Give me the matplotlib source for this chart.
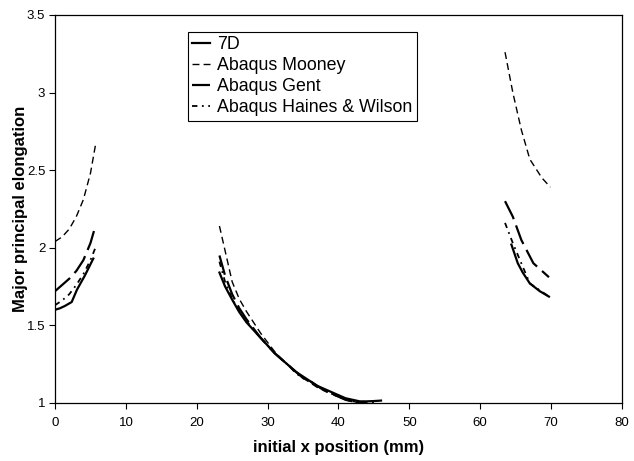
import matplotlib.pyplot as plt

plt.rcParams['font.family'] = ['Liberation Sans', 'DejaVu Sans']

# left group
x_left = [0, 1, 2, 3, 4, 5, 5.7]
d7_left_x = [0, 0.7, 1.4, 2.35, 3.1, 4.2, 5.4]
d7_left_y = [1.60, 1.61, 1.625, 1.65, 1.73, 1.82, 1.93]
mooney_left = [2.04, 2.07, 2.12, 2.20, 2.31, 2.48, 2.66]
gent_left = [1.72, 1.76, 1.80, 1.85, 1.92, 2.03, 2.14]
hw_left = [1.63, 1.66, 1.70, 1.76, 1.83, 1.92, 2.00]

# middle group
x_mid = [23.2, 24, 25, 26, 27, 28, 29, 30, 31, 32, 33, 34, 35, 36, 37, 38,
         39, 40, 41, 42, 43, 44, 45, 46]
d7_mid = [1.84, 1.75, 1.665, 1.585, 1.52, 1.47, 1.42, 1.37, 1.32, 1.28, 1.24,
          1.20, 1.17, 1.14, 1.11, 1.09, 1.07, 1.05, 1.03, 1.02, 1.01, 1.01,
          1.012, 1.015]
mooney_mid = [2.14, 1.98, 1.78, 1.67, 1.59, 1.52, 1.45, 1.39, 1.33, 1.28,
              1.24, 1.20, 1.16, 1.13, 1.10, 1.08, 1.06, 1.04, 1.02, 1.01, 1.0]
gent_mid = [1.95, 1.82, 1.70, 1.61, 1.54, 1.48, 1.42, 1.37, 1.32, 1.28, 1.24,
            1.20, 1.16, 1.14, 1.11, 1.08, 1.06, 1.04, 1.02, 1.01, 1.0, 1.0]
hw_mid = [1.91, 1.78, 1.67, 1.59, 1.53, 1.47, 1.42, 1.37, 1.32, 1.28, 1.24,
          1.19, 1.16, 1.14, 1.11, 1.08, 1.06, 1.04, 1.02, 1.01, 1.0, 1.0, 1.005]

# right group
mooney_right_x = [63.5, 64.6, 65.8, 67.0, 68.7, 69.9]
mooney_right_y = [3.26, 3.00, 2.76, 2.57, 2.45, 2.39]
gent_right_x = [63.5, 64.6, 65.8, 67.5, 69.7]
gent_right_y = [2.30, 2.20, 2.05, 1.90, 1.81]
hw_right_x = [63.5, 64.6, 65.8, 67.0, 69.7]
hw_right_y = [2.16, 2.03, 1.90, 1.77, 1.685]
d7_right_x = [64.4, 65.3, 66.0, 67.0, 68.4, 69.7]
d7_right_y = [2.02, 1.90, 1.84, 1.77, 1.72, 1.685]

styles = {
    '7D': dict(color='black', lw=1.6, linestyle='-'),
    'Abaqus Mooney': dict(color='black', lw=1.0, linestyle=(0, (5, 3))),
    'Abaqus Gent': dict(color='black', lw=1.6, linestyle=(0, (9, 3))),
    'Abaqus Haines & Wilson': dict(color='black', lw=1.3, linestyle=(0, (3, 2.5, 1, 2.5))),
}

fig = plt.figure(figsize=(6.34, 4.61), dpi=100)
ax = fig.add_axes([0.0868, 0.126, 0.8942, 0.8416])

ax.plot(d7_left_x, d7_left_y, label='7D', **styles['7D'])
ax.plot(x_left, mooney_left, label='Abaqus Mooney', **styles['Abaqus Mooney'])
ax.plot(x_left, gent_left, label='Abaqus Gent', **styles['Abaqus Gent'])
ax.plot(x_left, hw_left, label='Abaqus Haines & Wilson', **styles['Abaqus Haines & Wilson'])

ax.plot(x_mid, d7_mid, **styles['7D'])
ax.plot(x_mid[:len(mooney_mid)], mooney_mid, **styles['Abaqus Mooney'])
ax.plot(x_mid[:len(gent_mid)], gent_mid, **styles['Abaqus Gent'])
ax.plot(x_mid[:len(hw_mid)], hw_mid, **styles['Abaqus Haines & Wilson'])

ax.plot(d7_right_x, d7_right_y, **styles['7D'])
ax.plot(mooney_right_x, mooney_right_y, **styles['Abaqus Mooney'])
ax.plot(gent_right_x, gent_right_y, **styles['Abaqus Gent'])
ax.plot(hw_right_x, hw_right_y, **styles['Abaqus Haines & Wilson'])

ax.set_xlim(0, 80)
ax.set_ylim(1, 3.5)
ax.set_xticks(range(0, 81, 10))
ax.set_yticks([1, 1.5, 2, 2.5, 3, 3.5])
ax.set_yticklabels(['1', '1.5', '2', '2.5', '3', '3.5'])
ax.tick_params(direction='out', length=4, labelsize=9.5, pad=3)
ax.tick_params(axis='x', pad=6)
for s in ax.spines.values():
    s.set_linewidth(0.9)

ax.set_xlabel('initial x position (mm)', fontsize=12, fontweight='bold')
ax.set_ylabel('Major principal elongation', fontsize=12, fontweight='bold')
ax.xaxis.set_label_coords(0.5, -0.095)
ax.yaxis.set_label_coords(-0.047, 0.5)

leg = ax.legend(loc='upper left', bbox_to_anchor=(0.2346, 0.956), fontsize=12.8,
                handlelength=1.0, handletextpad=0.4, labelspacing=0.22,
                borderpad=0.25, borderaxespad=0, frameon=True, fancybox=False,
                framealpha=1)
leg.get_frame().set_edgecolor('black')
leg.get_frame().set_linewidth(0.8)

fig.savefig('out.png', dpi=100)
